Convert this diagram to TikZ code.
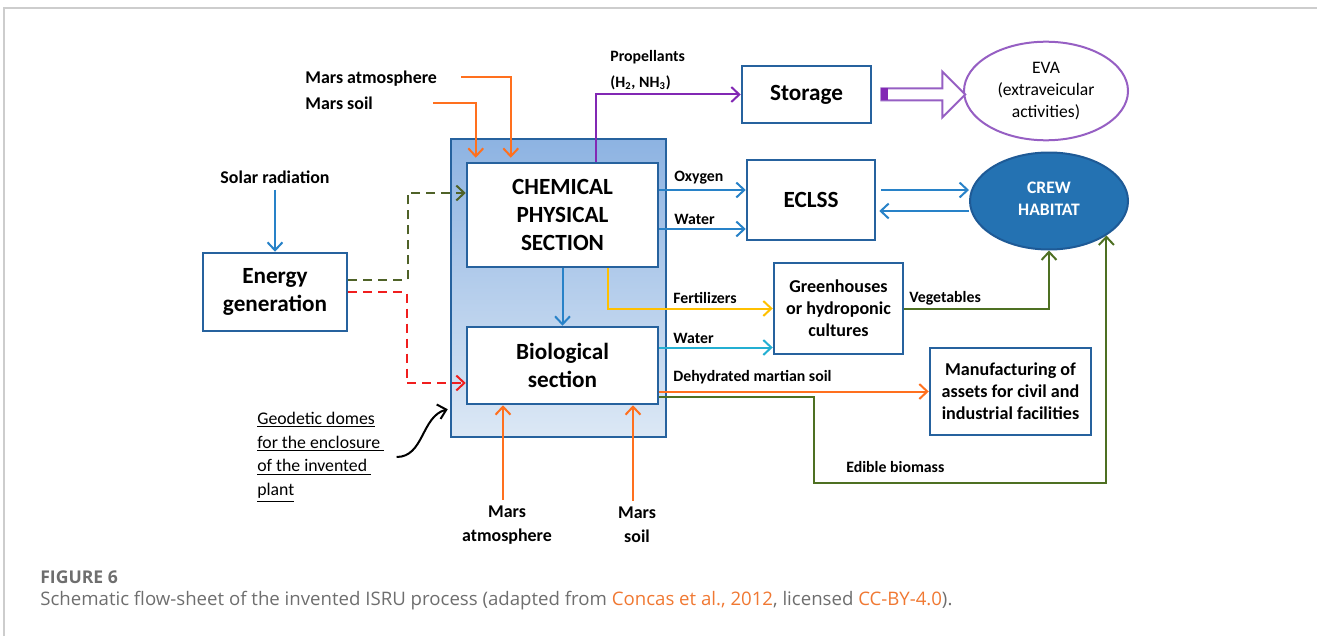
\documentclass[tikz,border=0pt]{standalone}
\usepackage{fontspec}
\setmainfont{Carlito}
\newfontfamily\captionfont{Open Sans}
\usetikzlibrary{arrows.meta,shapes.geometric}

\definecolor{boxblue}{RGB}{38,98,158}
\definecolor{arrowblue}{RGB}{40,130,200}
\definecolor{waterblue}{RGB}{35,175,210}
\definecolor{marsorange}{RGB}{255,112,30}
\definecolor{fertyellow}{RGB}{255,192,0}
\definecolor{foodgreen}{RGB}{78,112,34}
\definecolor{dashgreen}{RGB}{79,98,40}
\definecolor{powerred}{RGB}{240,30,30}
\definecolor{propurple}{RGB}{130,40,180}
\definecolor{evapurple}{RGB}{150,95,195}
\definecolor{crewblue}{RGB}{36,114,178}
\definecolor{crewedge}{RGB}{30,90,150}
\definecolor{sectop}{RGB}{141,179,226}
\definecolor{secbottom}{RGB}{220,232,245}
\definecolor{framegray}{RGB}{205,205,205}
\definecolor{capgray}{RGB}{110,110,110}
\definecolor{caporange}{RGB}{240,120,50}

\begin{document}
\begin{tikzpicture}[x=0.2mm, y=-0.2mm,
    >={Straight Barb[length=1.6mm,width=3mm]},
    box/.style={draw=boxblue, line width=0.5mm, fill=white, align=center, font=\fontsize{13.2}{16}\selectfont\bfseries},
    smallbox/.style={box, font=\fontsize{10.3}{12.4}\selectfont\bfseries},
    flowtext/.style={anchor=west, inner sep=0pt, font=\fontsize{9}{14.8}\selectfont\bfseries},
    inputtext/.style={align=center, font=\fontsize{10.2}{13.7}\selectfont\bfseries},
    flow/.style={->, line width=0.4mm},
    power/.style={->, line width=0.4mm, dash pattern=on 1.8mm off 1.2mm}]
    \useasboundingbox (0,0) rectangle (1317,636);
    \draw[framegray, line width=0.4mm] (4,636) |- (1317,8);

    \node[draw=boxblue, line width=0.5mm, top color=sectop, bottom color=secbottom, minimum width=43mm, minimum height=59.6mm] (Section) at (558.5,288) {};
    \node[box, minimum width=38.2mm, minimum height=20.8mm] (Chemical) at (562.5,215) {CHEMICAL\\PHYSICAL\\SECTION};
    \node[box, minimum width=38.2mm, minimum height=15.4mm] (Biological) at (562.5,365.5) {Biological\\section};
    \node[box, minimum width=28.8mm, minimum height=15.6mm] (Energy) at (275,292) {Energy\\generation};
    \node[box, minimum width=25.8mm, minimum height=11.4mm] (Storage) at (806.5,94.5) {Storage};
    \node[box, minimum width=25.6mm, minimum height=16mm] (ECLSS) at (811,200) {ECLSS};
    \node[smallbox, minimum width=25.8mm, minimum height=18.2mm] (Greenhouses) at (838.5,308.5) {Greenhouses\\or hydroponic\\cultures};
    \node[smallbox, minimum width=32.2mm, minimum height=17.4mm] (Manufacturing) at (1010.5,391.5) {Manufacturing of\\assets for civil and\\industrial facilities};
    \node[ellipse, draw=evapurple, line width=0.4mm, minimum width=32.8mm, minimum height=19.6mm, align=center, font=\fontsize{10}{12.6}\selectfont] (EVA) at (1046,91) {EVA\\(extraveicular\\activities)};
    \node[ellipse, draw=crewedge, fill=crewblue, text=white, line width=0.4mm, minimum width=31.6mm, minimum height=19.4mm, align=center, font=\fontsize{10}{12.6}\selectfont\bfseries] (Crew) at (1049,201) {\raisebox{0.8mm}{CREW}\\\raisebox{0.8mm}{HABITAT}};

    \node[inputtext] (Solar) at (275,177) {Solar radiation};
    \node[inputtext, anchor=west, inner sep=0pt] (Atm Top) at (305,79) {Mars atmosphere};
    \node[inputtext, anchor=west, inner sep=0pt] (Soil Top) at (305,103) {Mars soil};
    \node[inputtext] (Atm Bottom) at (507,525) {Mars\\atmosphere};
    \node[inputtext] (Soil Bottom) at (637,525) {Mars\\soil};
    \node[flowtext, align=left] (Propellants) at (610,70) {Propellants\\(H\textsubscript{2}, NH\textsubscript{3})};
    \node[flowtext] (Oxygen) at (674,178) {Oxygen};
    \node[flowtext] (Water Top) at (674,219) {Water};
    \node[flowtext] (Fertilizers) at (673,298) {Fertilizers};
    \node[flowtext] (Water Bottom) at (673,338) {Water};
    \node[flowtext] (Dehydrated) at (673,377) {Dehydrated martian soil};
    \node[flowtext] (Vegetables) at (909,298) {Vegetables};
    \node[flowtext] (Biomass) at (846,467) {Edible biomass};
    \node[anchor=west, inner sep=0pt, align=left, font=\fontsize{10.1}{13.6}\selectfont] (Geodetic) at (257,457) {\underline{Geodetic domes}\\\underline{for the enclosure~}\\\underline{of the invented~}\\\underline{plant}};
    \coordinate (Atm In) at (461,77);
    \coordinate (Soil In) at (433,103);

    \draw[flow, marsorange] (Atm In) -| ([xshift=9mm,yshift=0.8mm]Chemical.north west);
    \draw[flow, marsorange] (Soil In) -| ([xshift=2mm,yshift=0.8mm]Chemical.north west);
    \draw[flow, arrowblue] (Solar) -- (Energy);
    \draw[power, dashgreen] ([yshift=2.4mm]Energy.east) -| ([xshift=-11.6mm,yshift=4.4mm]Chemical.west) -- ([yshift=4.4mm]Chemical.west);
    \draw[power, powerred] (Energy.east) -| ([xshift=-11.8mm,yshift=-3.5mm]Biological.west) -- ([yshift=-3.5mm]Biological.west);
    \draw[flow, arrowblue] (Chemical) -- (Biological);
    \draw[flow, propurple] ([xshift=26mm]Chemical.north west) |- (Storage.west);
    \draw[evapurple, line width=0.4mm, fill=white] ([xshift=1.8mm,yshift=1.2mm]Storage.east) -- ++(61,0) -- ++(0,-17) -- ++(23,23) -- ++(-23,23) -- ++(0,-17) -- ++(-61,0) -- cycle;
    \fill[propurple] ([xshift=1.8mm,yshift=1.2mm]Storage.east) rectangle ++(7,12);
    \draw[flow, arrowblue] ([yshift=5mm]Chemical.east) -- ([yshift=5mm]Chemical.east -| ECLSS.west);
    \draw[flow, arrowblue] ([yshift=-2.8mm]Chemical.east) -- ([yshift=-2.8mm]Chemical.east -| ECLSS.west);
    \draw[flow, arrowblue] ([xshift=1mm,yshift=2mm]ECLSS.east) -- ([yshift=2mm]ECLSS.east -| Crew.west);
    \draw[flow, arrowblue] ([yshift=-2mm]Crew.west) -- ([xshift=0.6mm,yshift=-2mm]Crew.west -| ECLSS.east);
    \draw[flow, fertyellow] ([xshift=-10.2mm]Chemical.south east) |- (Greenhouses.west);
    \draw[flow, waterblue] ([yshift=3.6mm]Biological.east) -- ([yshift=3.6mm]Biological.east -| Greenhouses.west);
    \draw[flow, marsorange] (Biological.east |- Manufacturing.west) -- (Manufacturing.west);
    \draw[flow, foodgreen] (Greenhouses.east) -| (Crew.south);
    \draw[flow, foodgreen] ([yshift=-6.3mm]Biological.east) -- ++(155,0) -- ++(0,86) -| (Crew.-31);
    \draw[flow, marsorange] ([xshift=-0.8mm]Atm Bottom.north) -- ([xshift=-0.8mm]Atm Bottom.north |- Biological.south);
    \draw[flow, marsorange] ([xshift=-0.8mm]Soil Bottom.north) -- ([xshift=-0.8mm]Soil Bottom.north |- Biological.south);
    \draw[->, line width=0.4mm] ([xshift=2.4mm]Geodetic.east) to[out=0, in=195] ([xshift=-0.4mm,yshift=5.8mm]Section.south west);

    \node[anchor=west, inner sep=0pt, text=capgray, font=\captionfont\fontsize{10}{11}\selectfont\bfseries] (Figure Label) at (40,577) {FIGURE 6};
    \node[anchor=west, inner sep=0pt, text=capgray, font=\captionfont\fontsize{10.6}{12}\selectfont] (Caption) at (40,601) {Schematic flow-sheet of the invented ISRU process (adapted from \textcolor{caporange}{Concas et al., 2012}, licensed \textcolor{caporange}{CC-BY-4.0}).};
\end{tikzpicture}
\end{document}
